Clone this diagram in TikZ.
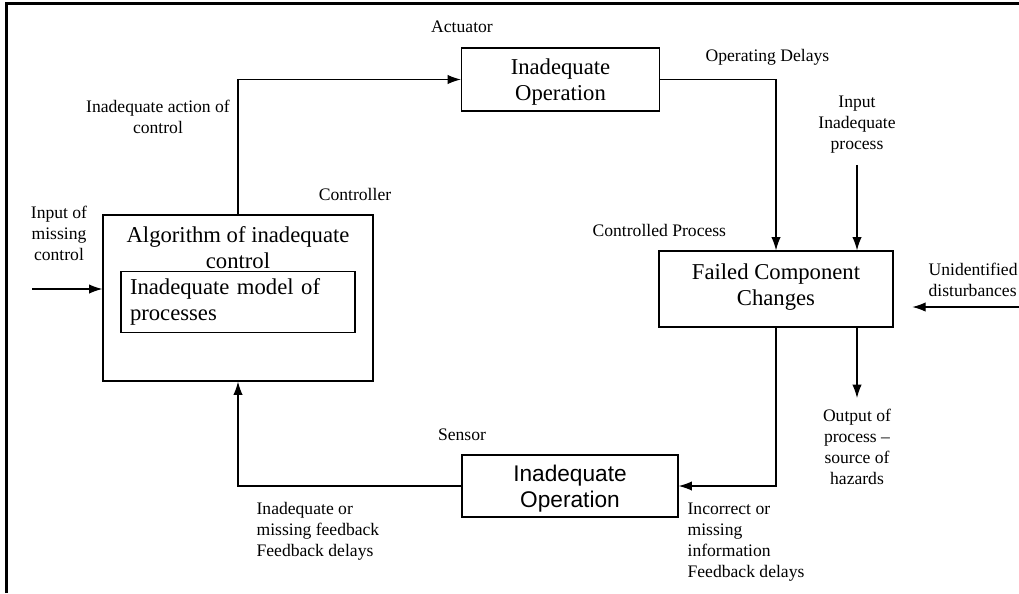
\documentclass[tikz,border=0pt]{standalone}
\usepackage{fontspec}
\setmainfont{Liberation Serif}
\newfontfamily\sensfont{Liberation Sans}
\usetikzlibrary{positioning}
\usetikzlibrary{calc}
\usetikzlibrary{arrows.meta}

\begin{document}
\begin{tikzpicture}[
	x=0.75pt, y=-0.75pt,
	line width=0.9pt,
	arrow/.style={-{Latex[length=10pt,width=7pt]}},
	block/.style={draw, align=center, inner sep=0pt, font=\fontsize{17}{19.5}\selectfont},
	lbl/.style={inner sep=0pt, font=\fontsize{13.2}{15.75}\selectfont},
]
\useasboundingbox (0,0) rectangle (1019,593);
\draw[line width=2.25pt] (6,593) |- (1019,3);

% Blocks
\node[block, text depth=-2.3pt, minimum width=148.5pt, minimum height=47.25pt](act) at (560.5,79.5) {Inadequate\\Operation};
\node[block, text depth=6.7pt, minimum width=175.5pt, minimum height=57pt](proc) at (776,289) {Failed Component\\Changes};
\node[block, text depth=-2.3pt, minimum width=162pt, minimum height=46.5pt, font=\sensfont\fontsize{17}{19.5}\selectfont](sens) at (570,486) {Inadequate\\Operation};
\node[block, minimum width=202.5pt, minimum height=124.5pt](ctrl) at (238,298) {};
\node[block, draw=none](ctrltxt) at (238,248) {Algorithm of inadequate\\control};
\node[block, align=left, text width=162pt, inner xsep=6.75pt, minimum height=45.75pt](model) at (238,302) {Inadequate model of\\processes};

% Labels
\node[lbl](actl) at (462,27) {Actuator};
\node[lbl, anchor=west](opdel) at (705,57) {Operating Delays};
\node[lbl, align=center](inpl) at (857,125) {Input\\Inadequate\\process};
\node[lbl, anchor=west](procl) at (592,230) {Controlled Process};
\node[lbl, anchor=west, align=left](distl) at (928,279.5) {Unidentified\\disturbances};
\node[lbl, align=center, anchor=north, inner ysep=7.5pt](outl) at (857,398) {Output of\\process --\\source of\\hazards};
\node[lbl](sensl) at (462,435) {Sensor};
\node[lbl, anchor=west, align=left](infol) at (687,542.5) {Incorrect or\\missing\\information\\Feedback delays};
\node[lbl, anchor=west, align=left](fbl) at (256,531) {Inadequate or\\missing feedback\\Feedback delays};
\node[lbl](ctrll) at (355,194) {Controller};
\node[lbl, align=center](incl) at (59,233) {Input of\\missing\\control};
\node[lbl, align=center](actionl) at (158,116.5) {Inadequate action of\\control};

\coordinate (inc) at (32,289);
\coordinate (dist) at (1019,307);

% Loop
\draw[arrow] (ctrl.north) |- (act.west);
\draw[arrow] (act.east) -| (proc.north);
\draw[arrow] (proc.south) |- (sens.east);
\draw[arrow] (sens.west) -| (ctrl.south);

% Side inputs and outputs
\draw[arrow, shorten <=8pt] (inpl.south) -- (inpl.south |- proc.north);
\draw[arrow, shorten >=14pt] (dist) -- (dist -| proc.east);
\draw[arrow] (proc.south -| outl.north) -- (outl.north);
\draw[arrow] (inc) -- (inc -| ctrl.west);
\end{tikzpicture}
\end{document}
